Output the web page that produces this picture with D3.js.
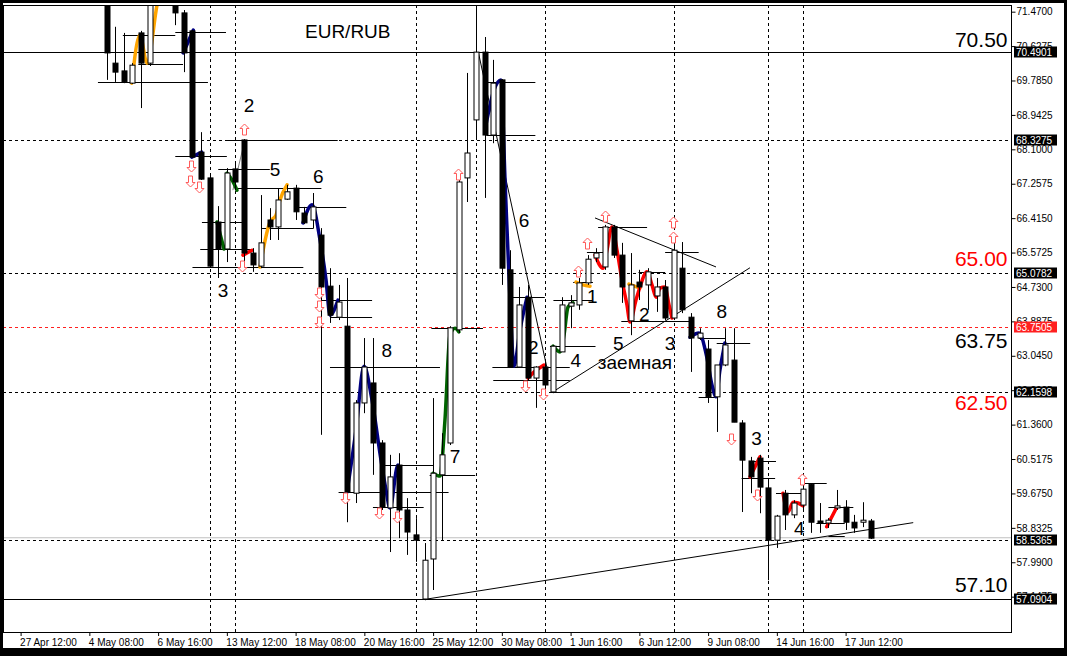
<!DOCTYPE html>
<html><head><meta charset="utf-8">
<script src="https://cdn.jsdelivr.net/npm/d3@7"></script>
<style>
body{margin:0;background:#fff}
svg{display:block}
text{font-family:Arial,"Liberation Sans",sans-serif}
</style></head>
<body><svg id="c" width="1067" height="656"></svg>
<script>
// ---------------- DATA ----------------
const title = "EUR/RUB";
const barIdx = d3.range(10, 100);
const opens  = [72.00,70.21,70.02,69.72,70.95,70.21,72.00,72.20,71.88,71.44,71.00,68.03,67.40,66.32,65.66,67.62,68.33,65.56,65.24,66.37,66.20,66.88,67.15,66.54,66.37,66.00,64.75,63.99,63.77,59.68,61.89,62.38,60.91,59.32,60.37,59.27,58.66,57.09,58.07,60.13,60.91,63.68,67.40,68.82,70.48,68.45,69.80,65.15,62.77,64.48,62.50,62.77,62.16,63.14,64.26,64.29,64.83,65.44,65.22,66.20,65.51,63.90,64.85,64.78,64.51,64.73,63.97,65.19,63.99,63.48,63.21,62.04,62.82,62.94,61.40,60.47,60.54,59.81,58.53,59.68,59.15,59.39,59.90,59.00,58.95,59.32,59.34,58.97,58.97,59.00];
const highs  = [72.12,71.10,70.95,70.21,71.00,72.25,72.40,72.50,72.00,71.51,71.02,68.52,67.45,66.71,67.64,67.77,68.35,65.68,66.98,66.66,67.15,67.23,67.23,66.69,67.03,66.17,65.19,64.78,64.95,61.96,63.48,63.48,60.98,60.62,60.66,59.56,59.07,58.46,62.01,61.15,63.77,67.35,69.97,71.63,70.85,70.29,69.82,65.63,64.73,64.78,62.79,62.94,63.31,64.48,64.53,64.95,65.51,65.68,66.25,66.25,65.81,65.56,65.15,65.19,64.95,64.90,65.95,65.83,64.09,63.72,63.43,62.82,63.72,63.72,61.47,60.57,60.62,60.00,59.15,59.76,59.51,59.88,59.93,59.44,59.07,59.76,59.51,59.15,59.46,59.05];
const lows   = [69.80,69.75,69.72,69.70,69.11,70.14,71.85,71.90,71.14,69.99,67.89,67.35,65.22,64.95,65.34,67.10,65.34,65.10,65.19,65.88,65.88,66.86,66.37,66.27,66.17,61.11,63.85,63.92,58.97,59.44,61.64,60.13,59.27,58.24,58.58,58.17,58.00,57.06,57.31,58.53,60.86,63.60,66.81,68.33,66.91,68.25,64.78,62.75,62.75,62.45,61.77,62.08,62.13,63.14,63.72,64.17,64.78,65.34,65.15,65.44,64.34,63.55,64.41,64.17,64.12,63.92,63.92,64.09,62.65,63.43,61.89,61.18,62.79,61.42,59.22,59.68,59.19,57.55,58.34,58.78,59.07,59.27,58.71,58.71,58.83,59.27,58.78,58.71,58.85,58.56];
const closes = [70.46,69.99,69.75,70.16,70.21,72.00,72.20,72.05,71.44,70.46,67.91,67.37,65.24,65.66,67.52,67.30,65.56,65.27,65.81,66.20,66.86,67.06,66.57,66.30,66.69,64.73,64.04,64.36,59.71,61.89,62.77,60.91,59.34,60.08,59.27,58.73,58.53,58.04,60.17,60.62,63.73,67.30,68.01,70.48,68.45,69.72,65.19,62.77,64.29,62.50,62.77,62.33,63.28,64.29,64.34,64.83,65.41,65.56,66.20,65.51,64.73,64.78,64.73,65.10,64.73,63.97,65.63,64.17,63.48,63.60,62.04,62.82,63.31,61.42,60.49,60.08,59.83,58.53,59.12,59.15,59.44,59.78,58.97,58.95,59.02,59.37,58.97,58.83,59.02,58.58];

const dateTickIdx = [0,8,16,24,32,40,48,56,64,72,80,88,96];
const dateLabels = ["27 Apr 12:00","4 May 08:00","6 May 16:00","13 May 12:00","18 May 08:00","20 May 16:00","25 May 12:00","30 May 08:00","1 Jun 16:00","6 Jun 12:00","9 Jun 08:00","14 Jun 16:00","17 Jun 12:00"];
const priceTicks = [71.47,70.6275,69.785,68.9425,68.10,67.2575,66.415,65.5725,64.73,63.8875,63.045,62.2025,61.36,60.5175,59.675,58.8325,57.99,57.1475];

const solidLevels = [70.4901, 57.0904];
const dashedLevels = [68.3275, 65.0782, 62.1598, 58.5365];
const redDashedLevel = 63.7505;
const bidPrice = 58.59;
const boxedPrices = [70.4901, 68.3275, 65.0782, 62.1598, 58.5365, 57.0904];
const separatorIdx = [22, 25, 46, 53, 61, 76, 87, 91];

const bigLabelText  = ["70.50","65.00","63.75","62.50","57.10"];
const bigLabelPrice = [70.605, 65.243, 63.235, 61.717, 57.260];
const bigLabelColor = ["#000","#ff0000","#000","#ff0000","#000"];

const waveText  = ["2","3","5","6","6","8","7","2","4","5","3","заемная","1","2","8","3","4"];
const waveIdx   = [26.58,23.55,29.6,34.64,58.58,42.6,50.55,59.66,64.59,69.55,75.57,71.49,66.52,72.57,81.58,85.65,90.61];
const wavePrice = [69.01,64.48,67.45,67.28,66.20,63.01,60.42,63.09,62.77,63.19,63.19,62.72,64.34,63.90,63.97,60.86,58.66];

const upArrowIdx   = [25.96,50.93,68.0,65.87,64.9,75.95,75.95,90.96];
const upArrowPrice = [68.60,67.50,66.47,65.81,65.12,66.33,65.96,60.04];
const dnArrowIdx   = [19.8,19.7,20.8,25.8,34.76,34.76,34.76,37.75,41.74,43.76,58.69,60.75,82.66,85.72];
const dnArrowPrice = [67.69,67.32,67.18,65.25,64.58,64.27,63.87,59.57,59.19,59.10,62.30,62.11,61.00,59.64];

// short horizontal levels: start idx, end idx, price
const lvStart = [11.9,18.0,13.7,9.0,24.1,18.0,23.0,25.0,32.1,21.1,28.1,20.9,20.0,35.0,36.0,36.0,42.4,37.0,41.0,47.8,47.6,54.2,54.2,57.1,54.9,55.0,61.6,61.6,62.0,64.3,65.9,67.2,71.9,69.9,75.0,78.9,81.0,78.9,84.9,83.9,87.9,91.1,94.0,92.6,94.0];
const lvEnd   = [18.0,23.9,18.9,21.8,36.9,24.0,29.0,35.0,37.9,25.9,34.1,27.1,32.9,40.9,40.9,48.8,48.0,49.8,46.9,53.8,52.9,59.9,59.9,61.0,63.9,63.9,70.9,66.9,66.5,66.6,68.2,72.9,75.0,77.9,78.9,82.0,84.9,81.0,87.9,87.8,91.1,93.8,96.9,95.9,95.9];
const lvPrice = [70.90,70.98,70.19,69.76,68.33,67.94,67.62,67.15,66.70,66.33,66.17,65.65,65.21,64.41,64.00,62.78,60.37,59.72,59.35,63.72,60.13,69.76,68.46,64.49,62.78,62.45,62.15,63.29,64.41,64.86,65.59,66.21,65.10,63.90,65.59,63.47,63.35,62.03,60.48,60.06,59.69,59.92,59.35,58.96,58.63];

// trend lines [i1, p1, i2, p2]
const trendLines = [[47.3,57.09,103.87,58.96],[53.26,70.48,61.25,62.75],[66.84,66.42,80.92,65.22],[61.99,62.17,84.87,65.20]];
const greyLine = [24.7,67.10,26.1,68.33];

// coloured swing segments: [idx, price] points
const orangeSegs = [
  [[12.93,69.72],[13.89,70.90],[14.71,70.21],[15.87,71.63],[16.1,71.88]],
  [[27.86,65.22],[29.02,66.32],[29.72,66.49],[30.18,66.86],[31.0,67.23]],
  [[64.63,64.85],[65.44,64.78],[66.26,64.75]],
  [[70.79,64.80],[72.07,64.70]]];
const blueSegs = [
  [[18.93,70.46],[20.1,71.02]],
  [[19.91,67.91],[21.07,68.03]],
  [[32.86,66.30],[33.91,66.74],[34.84,65.88],[35.54,64.90],[36.0,64.04],[36.93,64.41]],
  [[37.98,59.71],[39.03,61.23],[39.96,62.79],[40.89,61.96],[41.94,60.49],[42.52,59.76],[42.98,59.32],[43.91,60.37],[44.14,59.51]],
  [[54.15,68.70],[55.08,69.55],[55.9,69.80],[56.37,67.35],[56.95,64.41],[57.41,62.79],[58.11,63.68],[58.93,64.48]],
  [[77.89,63.50],[78.94,63.60],[79.87,62.99],[80.45,62.33],[80.92,62.04],[81.38,62.70],[81.96,63.36]]];
const greenSegs = [
  [[22.85,66.32],[23.67,65.66]],
  [[24.02,67.52],[24.6,67.35],[25.18,67.10]],
  [[47.99,60.17],[48.8,60.10],[49.38,61.47],[49.96,63.55],[50.55,63.72],[51.01,63.63]],
  [[61.95,63.28],[62.76,63.14],[63.23,63.55],[63.7,64.24],[64.28,64.34]]];
const redSegs = [
  [[25.88,65.51],[26.93,65.63]],
  [[59.04,62.50],[59.74,62.65]],
  [[60.2,62.72],[60.9,62.82]],
  [[66.84,65.51],[67.77,65.19],[68.23,65.63],[68.81,66.20],[69.4,65.63],[69.98,64.90],[70.56,64.29],[70.91,63.87],[71.61,64.41],[72.07,64.73],[72.89,65.10],[73.47,64.78],[73.94,64.48],[74.4,64.70],[74.98,64.73],[75.45,64.29],[75.8,63.97]],
  [[84.87,60.08],[86.04,60.57]],
  [[88.71,59.68],[89.29,59.22],[89.88,59.46],[90.46,59.44],[91.04,59.37]],
  [[93.8,58.86],[94.96,59.33]]];

// ---------------- DRAW ----------------
const svg = d3.select("#c");
const P = {l:3, r:1011.5, t:5, b:632};
const x = d3.scaleLinear().domain([0, 96]).range([20.6, 845.6]);
const y = d3.scaleLinear().domain([57.0904, 70.4901]).range([599, 51.7]);

svg.append("rect").attr("width",1067).attr("height",656).attr("fill","#000");
svg.append("rect").attr("x",3).attr("y",3).attr("width",1061).attr("height",645).attr("fill","#fff");

svg.append("defs").append("clipPath").attr("id","clip")
  .append("rect").attr("x",P.l).attr("y",P.t).attr("width",P.r-P.l).attr("height",P.b-P.t);

const g = svg.append("g").attr("clip-path","url(#clip)");

// bid line
g.append("line").attr("x1",P.l).attr("x2",P.r).attr("y1",y(bidPrice)).attr("y2",y(bidPrice))
  .attr("stroke","#c0c0c0").attr("stroke-width",1);
// separators
g.selectAll(".sep").data(separatorIdx).join("line")
  .attr("x1",d=>Math.round(x(d))+0.5).attr("x2",d=>Math.round(x(d))+0.5)
  .attr("y1",P.t).attr("y2",P.b).attr("stroke","#000").attr("stroke-dasharray","3,3");
g.selectAll(".dl").data(dashedLevels).join("line")
  .attr("x1",P.l).attr("x2",P.r).attr("y1",d=>Math.round(y(d))+0.5).attr("y2",d=>Math.round(y(d))+0.5)
  .attr("stroke","#000").attr("stroke-dasharray","3,3");
g.append("line").attr("x1",P.l).attr("x2",P.r)
  .attr("y1",Math.round(y(redDashedLevel))+0.5).attr("y2",Math.round(y(redDashedLevel))+0.5)
  .attr("stroke","#ff2020").attr("stroke-dasharray","3,3");
g.selectAll(".sl").data(solidLevels).join("line")
  .attr("x1",P.l).attr("x2",P.r).attr("y1",d=>Math.round(y(d))+0.5).attr("y2",d=>Math.round(y(d))+0.5)
  .attr("stroke","#000");

// short levels
g.selectAll(".lv").data(lvPrice).join("line")
  .attr("x1",(d,i)=>x(lvStart[i])).attr("x2",(d,i)=>x(lvEnd[i]))
  .attr("y1",d=>Math.round(y(d))+0.5).attr("y2",d=>Math.round(y(d))+0.5)
  .attr("stroke","#000").attr("stroke-width",1);

// trend lines
g.selectAll(".tl").data(trendLines).join("line")
  .attr("x1",d=>x(d[0])).attr("y1",d=>y(d[1])).attr("x2",d=>x(d[2])).attr("y2",d=>y(d[3]))
  .attr("stroke","#000").attr("stroke-width",1);
g.append("line").attr("x1",x(greyLine[0])).attr("y1",y(greyLine[1])).attr("x2",x(greyLine[2])).attr("y2",y(greyLine[3]))
  .attr("stroke","#808080");

// coloured swing lines (under candles)
const lineGen = d3.line().x(d=>x(d[0])).y(d=>y(d[1])).curve(d3.curveMonotoneX);
function segs(arr, col){
  g.selectAll(null).data(arr).join("path").attr("d",lineGen)
    .attr("fill","none").attr("stroke",col).attr("stroke-width",3.5)
    .attr("stroke-linejoin","round").attr("stroke-linecap","round");
}
segs(orangeSegs,"#ffa500");
segs(blueSegs,"#000080");
segs(greenSegs,"#006400");
segs(redSegs,"#ff0000");

// candles
const cg = g.selectAll(".c").data(barIdx).join("g");
cg.append("line")
  .attr("x1",(d)=>Math.round(x(d))+0.5).attr("x2",(d)=>Math.round(x(d))+0.5)
  .attr("y1",(d,i)=>y(highs[i])).attr("y2",(d,i)=>y(lows[i]))
  .attr("stroke","#000");
cg.append("rect")
  .attr("x",d=>Math.round(x(d))-2)
  .attr("width",5)
  .attr("y",(d,i)=>y(Math.max(opens[i],closes[i])))
  .attr("height",(d,i)=>Math.max(1,Math.abs(y(opens[i])-y(closes[i]))))
  .attr("fill",(d,i)=>closes[i]>=opens[i]?"#fff":"#000")
  .attr("stroke","#000").attr("stroke-width",1);

// arrows
function arrowPath(up){
  return up ? "M0,-5.5 L4.5,-1 L2,-1 L2,5.5 L-2,5.5 L-2,-1 L-4.5,-1 Z"
            : "M0,5.5 L4.5,1 L2,1 L2,-5.5 L-2,-5.5 L-2,1 L-4.5,1 Z";
}
g.selectAll(".ua").data(upArrowIdx).join("path")
  .attr("d",arrowPath(true))
  .attr("transform",(d,i)=>`translate(${Math.round(x(d))+0.5},${Math.round(y(upArrowPrice[i]))+0.5})`)
  .attr("fill","#fff").attr("stroke","#ff5a5a").attr("stroke-width",1);
g.selectAll(".da").data(dnArrowIdx).join("path")
  .attr("d",arrowPath(false))
  .attr("transform",(d,i)=>`translate(${Math.round(x(d))+0.5},${Math.round(y(dnArrowPrice[i]))+0.5})`)
  .attr("fill","#fff").attr("stroke","#ff5a5a").attr("stroke-width",1);

// wave labels
g.selectAll(".wl").data(waveText).join("text")
  .attr("x",(d,i)=>x(waveIdx[i])).attr("y",(d,i)=>y(wavePrice[i]))
  .attr("text-anchor","middle").attr("font-size",19).attr("fill","#000").text(d=>d);

// big level labels
g.selectAll(".bl").data(bigLabelText).join("text")
  .attr("x",1007.5).attr("y",(d,i)=>y(bigLabelPrice[i]))
  .attr("text-anchor","end").attr("font-size",21).attr("fill",(d,i)=>bigLabelColor[i]).text(d=>d);

// title
svg.append("text").attr("x",305).attr("y",38).attr("font-size",19).text(title);

// frame lines
svg.append("rect").attr("x",P.l+0.5).attr("y",P.t+0.5).attr("width",P.r-P.l-0.5).attr("height",P.b-P.t)
  .attr("fill","none").attr("stroke","#000");

// axes
const ya = svg.append("g").attr("transform",`translate(${P.r},0)`)
  .call(d3.axisRight(y).tickValues(priceTicks).tickFormat(d3.format(".4f")).tickSize(4).tickPadding(1));
ya.select(".domain").remove();
ya.selectAll("text").attr("font-size",10).attr("font-family","Arial, 'Liberation Sans', sans-serif");
ya.selectAll("line").attr("stroke","#000");

const xa = svg.append("g").attr("transform",`translate(0,${P.b})`)
  .call(d3.axisBottom(x).tickValues(dateTickIdx).tickFormat((d,i)=>dateLabels[i]).tickSize(4).tickPadding(3));
xa.select(".domain").remove();
xa.selectAll("text").attr("font-size",10).attr("text-anchor","start").attr("dx",-1)
  .attr("font-family","Arial, 'Liberation Sans', sans-serif");
xa.selectAll("line").attr("stroke","#000");

// price boxes
const bx = svg.selectAll(".pb").data(boxedPrices.concat([redDashedLevel])).join("g")
  .attr("transform",d=>`translate(1014,${Math.round(y(d))})`);
bx.append("rect").attr("x",0).attr("y",-5.5).attr("width",43).attr("height",11)
  .attr("fill",d=>d===redDashedLevel?"#ff2020":"#000");
bx.append("text").attr("x",2).attr("y",0).attr("dy","0.35em").attr("font-size",10)
  .attr("fill","#fff").text(d=>d.toFixed(4));
</script></body></html>
